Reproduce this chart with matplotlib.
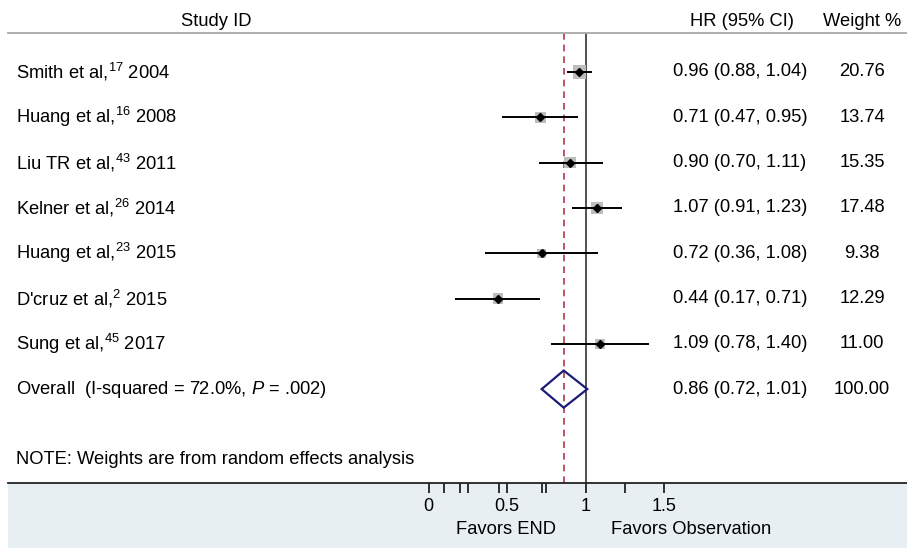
import matplotlib
matplotlib.use("Agg")
import matplotlib.pyplot as plt
from matplotlib.transforms import blended_transform_factory
from matplotlib.patches import Polygon, Rectangle

plt.rcParams['font.family'] = ['Liberation Sans', 'DejaVu Sans']
plt.rcParams['mathtext.fontset'] = 'custom'
plt.rcParams['mathtext.rm'] = 'Liberation Sans'
plt.rcParams['mathtext.it'] = 'Liberation Sans:italic'
plt.rcParams['mathtext.bf'] = 'Liberation Sans:bold'

# ---------------- data ----------------
authors = ["Smith et al,", "Huang et al,", "Liu TR et al,", "Kelner et al,",
           "Huang et al,", "D'cruz et al,", "Sung et al,"]
refs = ["17", "16", "43", "26", "23", "2", "45"]
years = ["2004", "2008", "2011", "2014", "2015", "2015", "2017"]
hr = [0.96, 0.71, 0.90, 1.07, 0.72, 0.44, 1.09]
ci_low = [0.88, 0.47, 0.70, 0.91, 0.36, 0.17, 0.78]
ci_high = [1.04, 0.95, 1.11, 1.23, 1.08, 0.71, 1.40]
weights = [20.76, 13.74, 15.35, 17.48, 9.38, 12.29, 11.00]

overall_label = "Overall  (I-squared = 72.0%, $P$ = .002)"
overall_hr = 0.86
overall_low = 0.72
overall_high = 1.01
overall_weight = 100.00

tick_values = [0, 0.1, 0.2, 0.25, 0.45, 0.5, 0.72, 0.75, 1, 1.25, 1.5]
tick_labels = ["0", "", "", "", "", "0.5", "", "", "1", "", "1.5"]
note = "NOTE: Weights are from random effects analysis"
# --------------------------------------

W, H = 907, 548
fig = plt.figure(figsize=(W / 100, H / 100), dpi=100)

def fx(px):
    return px / W

def fy(py):
    return 1 - py / H

# bottom shaded band
fig.patches.append(Rectangle((fx(8), 0), 1 - fx(8), fy(483), transform=fig.transFigure,
                             facecolor='#e8eff2', edgecolor='none', zorder=-5))

ax = fig.add_axes([fx(8), fy(483), 1 - fx(8), fy(33) - fy(483)])
ax.set_zorder(2)
ax.patch.set_alpha(0)
ax.set_xlim((8 - 428.5) / 157.2, (907 - 428.5) / 157.2)
row_top = (33 - 72) / 45.3
row_bot = (483 - 72) / 45.3
ax.set_ylim(row_bot, row_top)

for s in ['left', 'right']:
    ax.spines[s].set_visible(False)
ax.spines['top'].set_color('#a8a8a8')
ax.spines['top'].set_linewidth(1.3)
ax.spines['bottom'].set_color('#222222')
ax.spines['bottom'].set_linewidth(1.3)
ax.set_yticks([])
ax.set_xticks(tick_values)
ax.set_xticklabels(tick_labels, fontsize=13)
ax.tick_params(axis='x', direction='out', length=7, width=1.3, color='#222222', pad=4)

# reference lines
ax.axvline(1, color='#333333', lw=1.2, zorder=1)
ax.axvline(overall_hr, color='#b03a48', lw=1.2, ls=(0, (4, 3)), zorder=1)

rows = list(range(len(hr)))
# weight squares
ax.scatter(hr, rows, s=[4.4 * w for w in weights], marker='s', color='#bdbdbd',
           edgecolors='none', zorder=2)
# CI lines
ax.hlines(rows, ci_low, ci_high, color='black', lw=1.4, zorder=3)
# point estimates
ax.plot(hr, rows, ls='none', marker='D', ms=4, color='black', zorder=4)

# overall diamond
orow = len(hr)
dh = 0.41
ax.add_patch(Polygon([(overall_low, orow), (overall_hr, orow - dh),
                      (overall_high, orow), (overall_hr, orow + dh)],
                     closed=True, facecolor='none', edgecolor='#1c1c78', lw=1.6, zorder=4))

# text columns
tr = blended_transform_factory(fig.transFigure, ax.transData)
fs = 13.2
for i in rows:
    ax.text(fx(16), i, f"{authors[i]}$^{{{refs[i]}}}$ {years[i]}", transform=tr,
            ha='left', va='center', fontsize=fs)
    ax.text(fx(740), i, f"{hr[i]:.2f} ({ci_low[i]:.2f}, {ci_high[i]:.2f})", transform=tr,
            ha='center', va='center', fontsize=fs)
    ax.text(fx(862), i, f"{weights[i]:.2f}", transform=tr,
            ha='center', va='center', fontsize=fs)

ax.text(fx(16), orow, overall_label, transform=tr, ha='left', va='center', fontsize=fs)
ax.text(fx(740), orow, f"{overall_hr:.2f} ({overall_low:.2f}, {overall_high:.2f})",
        transform=tr, ha='center', va='center', fontsize=fs)
ax.text(fx(862), orow, f"{overall_weight:.2f}", transform=tr,
        ha='center', va='center', fontsize=fs)

# headers
fig.text(fx(216), fy(21), "Study ID", ha='center', va='center', fontsize=fs)
fig.text(fx(742), fy(21), "HR (95% CI)", ha='center', va='center', fontsize=fs)
fig.text(fx(862), fy(21), "Weight %", ha='center', va='center', fontsize=fs)

# note
fig.text(fx(16), fy(460), note, ha='left', va='center', fontsize=fs)

# favors labels
fig.text(fx(506), fy(529), "Favors END", ha='center', va='center', fontsize=fs)
fig.text(fx(691), fy(529), "Favors Observation", ha='center', va='center', fontsize=fs)

fig.savefig("out.png", dpi=100)
